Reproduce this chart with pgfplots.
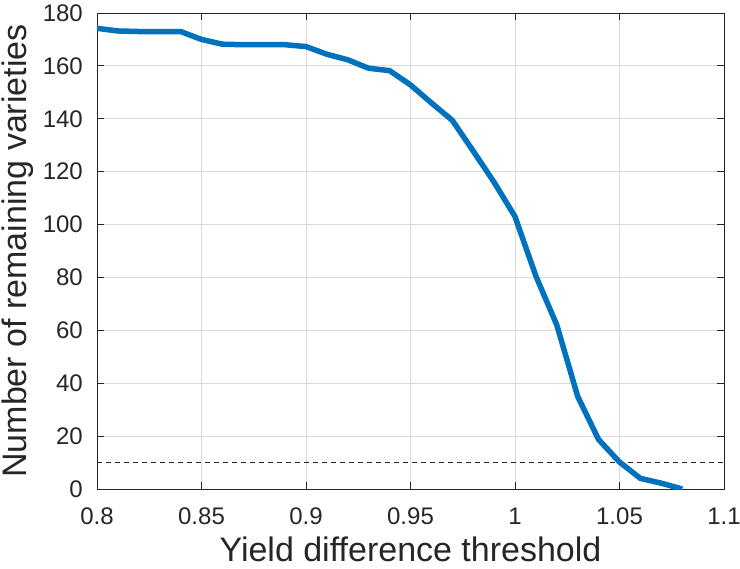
\documentclass[border=0pt]{standalone}
\usepackage{fontspec}
\setmainfont{Liberation Sans}
\usepackage{pgfplots}
\pgfplotsset{compat=1.18}
\definecolor{mblue}{RGB}{0,114,189}
\begin{document}
\begin{tikzpicture}
\begin{axis}[
  name=ax,
  scale only axis,
  width=627pt, height=476pt,
  xmin=0.8, xmax=1.1, ymin=0, ymax=180,
  xtick={0.8,0.85,...,1.1},
  xticklabels={0.8,0.85,0.9,0.95,1,1.05,1.1},
  ytick={0,20,...,180},
  tick align=inside,
  major tick length=7pt,
  tick style={black!85, line width=0.8pt},
  axis line style={black!85, line width=0.8pt},
  grid=major,
  grid style={black!15, line width=0.8pt},
  /pgf/number format/assume math mode=true,
  ticklabel style={font=\fontsize{24}{28}\selectfont, text=black!85, inner sep=0pt},
  xticklabel style={anchor=center, yshift=-27pt},
  yticklabel style={anchor=east, xshift=-14pt},
  label style={font=\fontsize{34}{40}\selectfont, text=black!85, inner sep=0pt},
  xlabel={Yield difference threshold},
  ylabel={Number of remaining varieties},
  xlabel style={at={(axis description cs:0.5,0)}, anchor=center, yshift=-60pt},
  ylabel style={at={(axis description cs:0,0.5)}, anchor=center, yshift=79pt},
]
\addplot[black!85, dashed, line width=0.9pt, dash pattern=on 5pt off 4pt] coordinates {(0.8,10) (1.1,10)};
\addplot[mblue, line width=5.5pt] coordinates {
(0.80,174.2) (0.81,173.2) (0.82,173) (0.83,173) (0.84,173) (0.85,170) (0.86,168.2)
(0.87,168) (0.88,168) (0.89,168) (0.90,167.3) (0.91,164.4) (0.92,162.3) (0.93,159.1)
(0.94,158.2) (0.95,152.8) (0.96,146) (0.97,139.4) (0.98,127.8) (0.99,116) (1.00,103)
(1.01,80.5) (1.02,62) (1.03,35) (1.04,18.7) (1.05,10.2) (1.06,4) (1.07,2.2) (1.08,0)
};
\end{axis}
\pgfresetboundingbox
\path ([shift={(-97pt,-80pt)}]ax.south west) rectangle ([shift={(16pt,13pt)}]ax.north east);
\end{tikzpicture}
\end{document}
